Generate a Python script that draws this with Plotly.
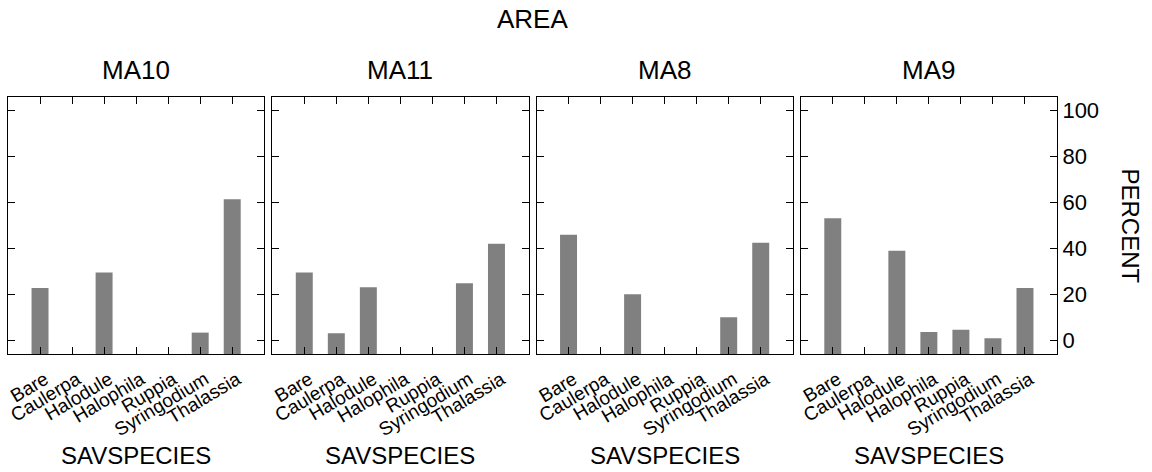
import plotly.graph_objects as go

# Seagrass (SAV) species cover by area
species = ["Bare", "Caulerpa", "Halodule", "Halophila", "Ruppia", "Syringodium", "Thalassia"]
areas = ["MA10", "MA11", "MA8", "MA9"]

ma10 = [22.9, None, 29.7, None, None, 3.5, 61.5]
ma11 = [29.7, 3.2, 23.2, None, None, 25.0, 42.2]
ma8 = [46.1, None, 20.2, None, None, 10.2, 42.6]
ma9 = [53.3, None, 39.1, 3.8, 4.7, 1.0, 22.9]

y_ticks = [0, 20, 40, 60, 80, 100]
Y_MIN, Y_MAX = -5.8, 106.0

FONT = "Arial, Liberation Sans, sans-serif"
BAR_COLOR = "#808080"

series = [ma10, ma11, ma8, ma9]

fig = go.Figure()

n = len(areas)
gap = 8 / 1049
w = (1 - gap * (n - 1)) / n

annotations = []
for i, (name, vals) in enumerate(zip(areas, series)):
    xa = "x" if i == 0 else f"x{i+1}"
    ya = "y" if i == 0 else f"y{i+1}"
    # bars rise from the bottom of the axis frame
    heights = [None if v is None else v - Y_MIN for v in vals]
    fig.add_trace(go.Bar(
        x=species, y=heights, base=Y_MIN,
        marker=dict(color=BAR_COLOR, line=dict(width=0)),
        width=0.53, xaxis=xa, yaxis=ya, showlegend=False,
        customdata=vals, hovertemplate="%{x}: %{customdata}<extra>" + name + "</extra>",
    ))
    d0 = i * (w + gap)
    d1 = d0 + w
    axis_common = dict(
        showline=True, linecolor="black", linewidth=1, mirror="ticks",
        ticks="inside", tickcolor="black", ticklen=7, tickwidth=1,
        showgrid=False, zeroline=False, automargin=False,
    )
    fig.update_layout(**{
        ("xaxis" if i == 0 else f"xaxis{i+1}"): dict(
            domain=[d0, d1], anchor=ya, type="category",
            categoryorder="array", categoryarray=species,
            range=[-1, len(species)], tickangle=-31,
            ticklabelstandoff=6, ticklabelshift=5,
            tickfont=dict(family=FONT, size=19, color="black"),
            **axis_common,
        ),
        ("yaxis" if i == 0 else f"yaxis{i+1}"): dict(
            domain=[0, 1], anchor=xa, range=[Y_MIN, Y_MAX],
            tickvals=y_ticks, side="right",
            showticklabels=(i == n - 1),
            tickfont=dict(family=FONT, size=22, color="black"),
            **axis_common,
        ),
    })
    annotations.append(dict(
        text=name, x=(d0 + d1) / 2, y=1.107, xref="paper", yref="paper",
        xanchor="center", yanchor="middle", showarrow=False,
        font=dict(family=FONT, size=26, color="black"),
    ))
    annotations.append(dict(
        text="SAVSPECIES", x=(d0 + d1) / 2, y=-0.396, xref="paper", yref="paper",
        xanchor="center", yanchor="middle", showarrow=False,
        font=dict(family=FONT, size=24, color="black"),
    ))

annotations.append(dict(
    text="AREA", x=0.5, y=1.305, xref="paper", yref="paper",
    xanchor="center", yanchor="middle", showarrow=False,
    font=dict(family=FONT, size=26, color="black"),
))
annotations.append(dict(
    text="PERCENT", x=1.0696, y=0.5, xref="paper", yref="paper",
    xanchor="center", yanchor="middle", showarrow=False, textangle=90,
    font=dict(family=FONT, size=24, color="black"),
))

fig.update_layout(
    width=1152, height=472,
    margin=dict(l=8, r=95, t=97, b=118),
    paper_bgcolor="white", plot_bgcolor="white",
    bargap=0.47,
    annotations=annotations,
    font=dict(family=FONT, color="black"),
)

fig.write_html("out.html")
